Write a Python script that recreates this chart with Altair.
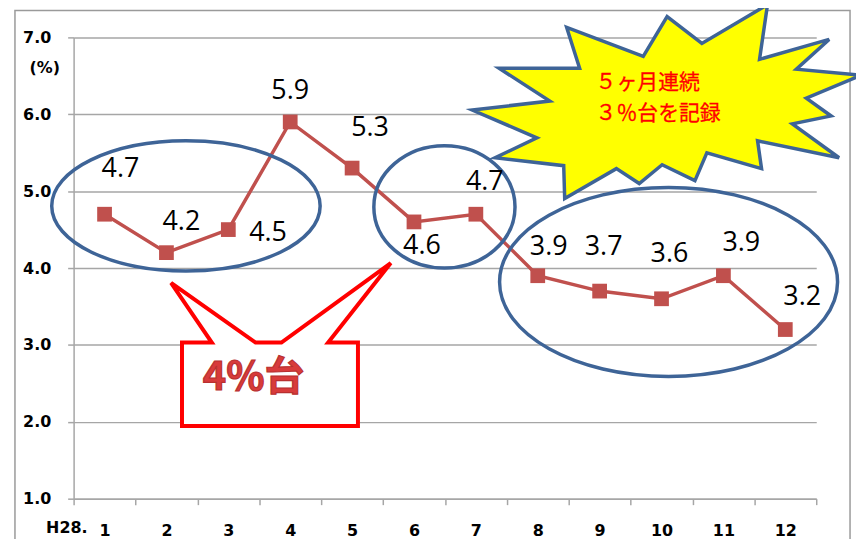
import altair as alt
import pandas as pd

# ---- data ----
months = list(range(1, 13))
rates = [4.7, 4.2, 4.5, 5.9, 5.3, 4.6, 4.7, 3.9, 3.7, 3.6, 3.9, 3.2]
rate_labels = ["4.7", "4.2", "4.5", "5.9", "5.3", "4.6", "4.7", "3.9", "3.7", "3.6", "3.9", "3.2"]
y_ticks = [1, 2, 3, 4, 5, 6, 7]
x_tick_bounds = [m - 0.5 for m in months] + [12.5]
x_prefix = "H28."
unit_text = "(%)"
callout_text = "4%台"
burst_lines = ["５ヶ月連続", "３％台を記録"]

# label offsets (pixels) for the value labels
label_dx = [16, 15, 40, 0, 18, 8, 9, 11, 4, 8, 18, 17]
label_dy = [-45, -31, 3, -31, -40, 24, -32, -29, -44, -45, -33, -33]

df = pd.DataFrame({"month": months, "rate": rates, "label": rate_labels})

RED = "#c0504d"
BLUE = "#3e6497"
GRID = "#a6a6a6"
AXFONT = "DejaVu Sans"

axis_vals = sorted(set([m for m in months] + x_tick_bounds))

X = alt.X(
    "month:Q",
    scale=alt.Scale(domain=[0.5, 12.5], nice=False, zero=False),
    axis=alt.Axis(
        values=axis_vals,
        labelExpr="datum.value % 1 == 0 ? format(datum.value, 'd') : ''",
        tickOpacity={"condition": {"test": "datum.value % 1 == 0", "value": 0}, "value": 1},
        tickSize=6,
        tickColor=GRID,
        tickWidth=1.5,
        domainColor=GRID,
        domainWidth=1.5,
        grid=False,
        labelFont=AXFONT,
        labelFontSize=16,
        labelFontWeight="bold",
        labelColor="black",
        labelPadding=18,
        labelFlush=False,
        labelOverlap=False,
        labelBound=False,
        title=None,
    ),
)
Y = alt.Y(
    "rate:Q",
    scale=alt.Scale(domain=[1, 7], nice=False, zero=False),
    axis=alt.Axis(
        values=y_ticks,
        format=".1f",
        grid=True,
        gridColor=GRID,
        gridWidth=1.5,
        tickSize=6,
        tickColor=GRID,
        tickWidth=1.5,
        domainColor=GRID,
        domainWidth=1.5,
        labelFont=AXFONT,
        labelFontSize=16,
        labelFontWeight="bold",
        labelColor="black",
        labelPadding=17,
        labelFlush=False,
        title=None,
    ),
)

# ---- frame (chart area border) ----
frame = alt.Chart(pd.DataFrame({"a": [0]})).mark_rect(
    fill="white", fillOpacity=0, stroke="#9a9a9a", strokeWidth=1.5
).encode(x=alt.value(-59), x2=alt.value(781), y=alt.value(-27), y2=alt.value(620))

line = alt.Chart(df).mark_line(color=RED, strokeWidth=3.5).encode(x=X, y=Y)
pts = alt.Chart(df).mark_point(
    shape="square", size=220, filled=True, color=RED, opacity=1
).encode(x=X, y=Y)

# ---- annotation shapes ----
def ellipse(rx, ry):
    return f"M{-rx},0 A{rx},{ry} 0 1,1 {rx},0 A{rx},{ry} 0 1,1 {-rx},0 Z"

ell_df = pd.DataFrame({
    "month": [2.315, 6.492, 10.114],
    "rate": [4.808, 4.795, 3.819],
    "path": [ellipse(135, 65.5), ellipse(71, 61.5), ellipse(170, 95)],
})
ellipses = alt.Chart(ell_df).mark_point(
    filled=False, size=4, stroke=BLUE, strokeWidth=3.5, opacity=1
).encode(x=X, y=Y, shape=alt.Shape("path:N", scale=None, legend=None))

star_pts = [(-100, -75), (-87, -34), (-168, -34), (-117, -1), (-195, 8), (-130, 36),
            (-172, 56), (-103, 64), (-102, 97), (-50, 67), (-27, 82), (-4, 63),
            (29, 79), (41, 51), (96, 67), (92, 39), (174, 56), (127, 22), (166, 14),
            (141, -4), (196, -27), (131, -33), (164, -63), (94, -43), (102, -98),
            (36, -59), (1, -86), (-23, -46)]
star_path = "M" + " L".join(f"{a},{b}" for a, b in star_pts) + " Z"
star = alt.Chart(pd.DataFrame({"month": [10.074], "rate": [6.159]})).mark_point(
    shape=star_path, size=4, filled=True, fill="#ffff00", stroke=BLUE,
    strokeWidth=3.5, opacity=1, strokeJoin="miter"
).encode(x=X, y=Y)

burst_df = pd.DataFrame({"month": [8.934, 8.934], "rate": [6.405, 6.004], "t": burst_lines})
burst_text = alt.Chart(burst_df).mark_text(
    font="Noto Sans CJK JP", fontSize=21, color="#ff0000", align="left", baseline="middle",
    stroke="#ff0000", strokeWidth=0.3
).encode(x=X, y=Y, text="t:N")

call_pts = [(-88.5, -42), (-58.5, -42), (-99.5, -102), (-14.5, -42), (11.5, -42),
            (121.5, -122), (58.5, -42), (88.5, -42), (88.5, 42), (-88.5, 42)]
call_path = "M" + " L".join(f"{a},{b}" for a, b in call_pts) + " Z"
callout = alt.Chart(pd.DataFrame({"month": [3.673], "rate": [2.487]})).mark_point(
    shape=call_path, size=4, filled=True, fill="white", stroke="#ff0000",
    strokeWidth=4, opacity=1, strokeJoin="miter"
).encode(x=X, y=Y)

call_df = pd.DataFrame({"month": [3.408], "rate": [2.564], "t": [callout_text]})
call_txt = alt.Chart(call_df).mark_text(
    font="Noto Sans CJK JP", fontSize=40, fontWeight="bold", color="#d83b3b",
    stroke="#b83030", strokeWidth=1.2, baseline="middle"
).encode(x=X, y=Y, text="t:N")

# axis side texts
side_df = pd.DataFrame({"month": [0.5], "rate": [7.0], "t": [unit_text]})
unit = alt.Chart(side_df).mark_text(
    font=AXFONT, fontSize=16, fontWeight="bold", color="black", dx=-29, dy=31,
    baseline="middle"
).encode(x=X, y=Y, text="t:N")
pre_df = pd.DataFrame({"month": [0.5], "rate": [1.0], "t": [x_prefix]})
prefix = alt.Chart(pre_df).mark_text(
    font=AXFONT, fontSize=16, fontWeight="bold", color="black", dx=14, dy=30,
    align="right", baseline="middle"
).encode(x=X, y=Y, text="t:N")

labels = []
for i in range(len(months)):
    labels.append(
        alt.Chart(df.iloc[[i]]).mark_text(
            font="Open Sans", fontSize=27, color="black", dx=label_dx[i], dy=label_dy[i],
            baseline="middle"
        ).encode(x=X, y=Y, text="label:N")
    )

chart = alt.layer(
    frame, line, pts, star, burst_text, ellipses, callout, call_txt,
    unit, prefix, *labels
).properties(
    width=747, height=464,
    autosize=alt.AutoSizeParams(type="none"),
    padding={"left": 66, "top": 28, "right": 40, "bottom": 39},
    background="white",
).configure_view(stroke=None)

chart.save("out.html", embed_options={"renderer": "svg", "actions": False})
